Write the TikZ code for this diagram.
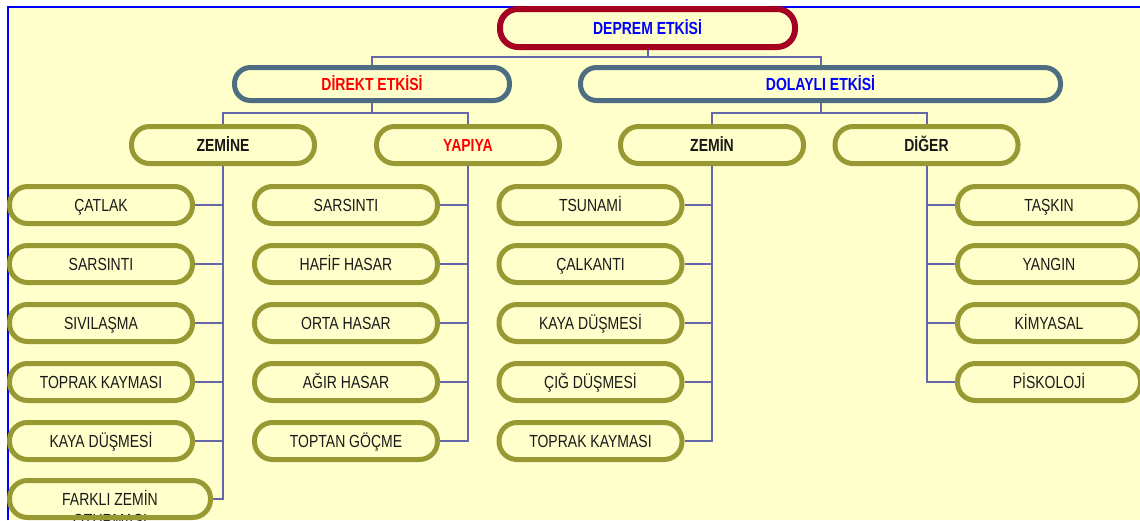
\documentclass[tikz,border=0pt]{standalone}
\usepackage{fontspec}
\setmainfont{Liberation Sans}[FakeStretch=0.8]
\usepackage{xcolor}
\usepackage{tikz}
\usetikzlibrary{positioning}

\definecolor{bgyellow}{HTML}{FFFFCC}
\definecolor{rimred}{HTML}{A50021}
\definecolor{rimslate}{HTML}{4D6D82}
\definecolor{rimolive}{HTML}{999933}
\definecolor{wireblue}{HTML}{6666AA}
\definecolor{inkblue}{HTML}{0000FF}
\definecolor{inkred}{HTML}{FF0000}

\begin{document}
\begin{tikzpicture}[x=1pt,y=-1pt,node distance=17pt]
    \tikzset{label font/.style={font=\fontsize{17.5}{19}\selectfont, text=black!90,
                                text height=12.5pt, text depth=0pt},
             box/.style={draw, line width=5pt, fill=bgyellow, inner sep=0pt, label font},
             rootbox/.style={box, draw=rimred, line width=6pt, minimum width=295pt,
                             minimum height=38pt, rounded corners=18pt},
             midbox/.style={box, draw=rimslate, minimum height=33pt, rounded corners=16pt},
             grpbox/.style={box, draw=rimolive, minimum width=183pt, minimum height=37pt,
                            rounded corners=18pt},
             leafbox/.style={grpbox},
             wire/.style={draw=wireblue, line width=2pt}}

    \useasboundingbox (0,0) rectangle (1140,520);
    \fill[bgyellow] (8,7) rectangle (1140,520);
    \draw[inkblue, line width=2pt] (8,520) -- (8,7) -- (1140,7);

    \node[rootbox] (deprem) at (647.5,28) {\bfseries\color{inkblue}DEPREM ETKİSİ};
    \node[midbox, minimum width=275pt] (direkt)  at (372,84)   {\bfseries\color{inkred}DİREKT ETKİSİ};
    \node[midbox, minimum width=480pt] (dolayli) at (820.5,84) {\bfseries\color{inkblue}DOLAYLI ETKİSİ};

    \node[grpbox] (zemine) at (223,145)   {\bfseries ZEMİNE};
    \node[grpbox] (yapiya) at (468,145)   {\bfseries\color{inkred}YAPIYA};
    \node[grpbox] (zemin)  at (712,145)   {\bfseries ZEMİN};
    \node[grpbox] (diger)  at (926.5,145) {\bfseries DİĞER};

    % zemine
    \node[leafbox] (za1) at (101,205) {ÇATLAK};
    \node[leafbox] (za2) [below=of za1] {SARSINTI};
    \node[leafbox] (za3) [below=of za2] {SIVILAŞMA};
    \node[leafbox] (za4) [below=of za3] {TOPRAK KAYMASI};
    \node[leafbox] (za5) [below=of za4] {KAYA DÜŞMESİ};
    \node[label font] (zatail) at (110,520) {OTURMASI};
    \node[leafbox, minimum width=201pt, fill=none] (za6) at (110,499) {FARKLI ZEMİN};

    % yapiya
    \node[leafbox] (ya1) at (346,205) {SARSINTI};
    \node[leafbox] (ya2) [below=of ya1] {HAFİF HASAR};
    \node[leafbox] (ya3) [below=of ya2] {ORTA HASAR};
    \node[leafbox] (ya4) [below=of ya3] {AĞIR HASAR};
    \node[leafbox] (ya5) [below=of ya4] {TOPTAN GÖÇME};

    % zemin
    \node[leafbox] (zb1) at (590.5,205) {TSUNAMİ};
    \node[leafbox] (zb2) [below=of zb1] {ÇALKANTI};
    \node[leafbox] (zb3) [below=of zb2] {KAYA DÜŞMESİ};
    \node[leafbox] (zb4) [below=of zb3] {ÇIĞ DÜŞMESİ};
    \node[leafbox] (zb5) [below=of zb4] {TOPRAK KAYMASI};

    % diger
    \node[leafbox] (da1) at (1049,205) {TAŞKIN};
    \node[leafbox] (da2) [below=of da1] {YANGIN};
    \node[leafbox] (da3) [below=of da2] {KİMYASAL};
    \node[leafbox] (da4) [below=of da3] {PİSKOLOJİ};

    \draw[wire] (deprem.south) -- ++(0,7) -| (direkt.north);
    \draw[wire] (deprem.south) -- ++(0,7) -| (dolayli.north);
    \draw[wire] (direkt.south) -- ++(0,10) -| (zemine.north);
    \draw[wire] (direkt.south) -- ++(0,10) -| (yapiya.north);
    \draw[wire] (dolayli.south) -- ++(0,10) -| (zemin.north);
    \draw[wire] (dolayli.south) -- ++(0,10) -| (diger.north);

    \foreach \i in {1,...,6} \draw[wire] (zemine.south) |- (za\i.east);
    \foreach \i in {1,...,5} \draw[wire] (yapiya.south) |- (ya\i.east);
    \foreach \i in {1,...,5} \draw[wire] (zemin.south) |- (zb\i.east);
    \foreach \i in {1,...,4} \draw[wire] (diger.south) |- (da\i.west);
\end{tikzpicture}
\end{document}
